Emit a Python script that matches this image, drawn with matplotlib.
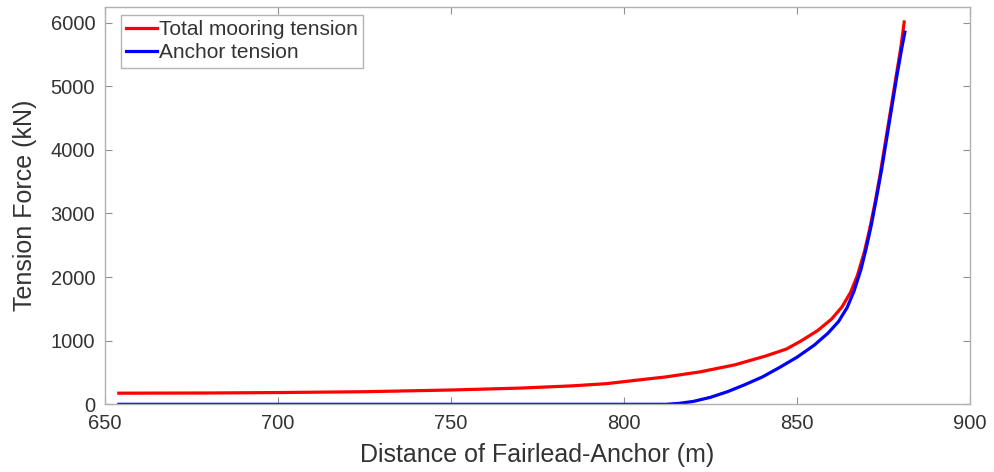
import matplotlib
matplotlib.use('Agg')
import matplotlib.pyplot as plt

# distance fairlead-anchor (m) and tensions (kN)
dist_total = [654, 680, 700, 725, 750, 770, 785, 795, 803, 812, 822, 832, 841,
              847, 851, 856, 860, 863, 865.5, 867.5, 869.5, 871, 872.5, 874,
              875.5, 877, 878.5, 880, 881]
total_tension = [175, 178, 185, 198, 225, 255, 290, 325, 375, 430, 510, 620, 760,
                 870, 990, 1160, 1340, 1530, 1760, 2030, 2400, 2750, 3150, 3600,
                 4100, 4600, 5100, 5600, 6010]

dist_anchor = [654, 700, 750, 800, 812, 816, 820, 825, 830, 835, 840, 845, 850,
               855, 859, 862, 864.5, 866.5, 868.5, 870, 871.5, 873, 874.5, 876,
               877.5, 879, 880.3, 881.2]
anchor_tension = [0, 0, 0, 0, 0, 15, 45, 110, 200, 310, 430, 580, 740,
                  930, 1120, 1300, 1520, 1780, 2120, 2450, 2820, 3250, 3700, 4200,
                  4700, 5200, 5600, 5850]

plt.rcParams['font.family'] = ['Liberation Sans', 'DejaVu Sans']

fig = plt.figure(figsize=(9.94, 4.72), dpi=100)
ax = fig.add_axes([0.1056, 0.1434, 0.8702, 0.8424])

ax.plot(dist_total, total_tension, '-', color='#ff0000', lw=2.3, label='Total mooring tension')
ax.plot(dist_anchor, anchor_tension, '-', color='#0000ff', lw=2.3, label='Anchor tension')

ax.set_xlim(650, 900)
ax.set_ylim(0, 6250)
ax.set_xticks([650, 700, 750, 800, 850, 900])
ax.set_yticks([0, 1000, 2000, 3000, 4000, 5000, 6000])

grey = '#333333'
for s in ax.spines.values():
    s.set_color('#b0b0b0')
    s.set_linewidth(1.0)
ax.tick_params(direction='in', length=5, width=0.8, color='#909090',
               labelsize=14.5, labelcolor=grey, top=True, right=True, pad=7)

ax.set_xlabel('Distance of Fairlead-Anchor (m)', fontsize=18, color=grey, labelpad=7)
ax.set_ylabel('Tension Force (kN)', fontsize=18, color=grey, labelpad=10)

leg = ax.legend(loc='upper left', bbox_to_anchor=(0.018, 0.979), borderaxespad=0,
                fontsize=15, frameon=True, fancybox=False,
                handlelength=1.5, handletextpad=0.1, borderpad=0.25,
                labelspacing=0.2)
leg.get_frame().set_edgecolor('#a0a0a0')
leg.get_frame().set_linewidth(1.0)
for t in leg.get_texts():
    t.set_color(grey)

fig.savefig('out.png', dpi=100)
